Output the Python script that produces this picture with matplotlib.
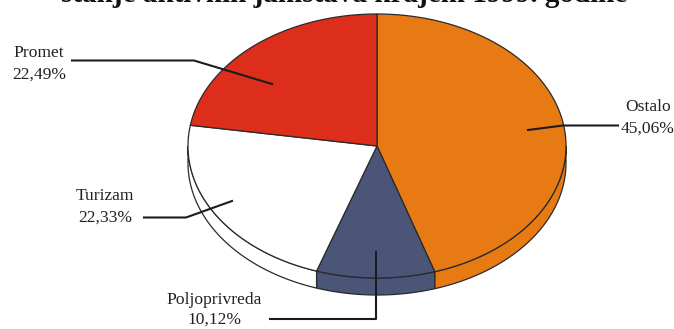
import numpy as np
import matplotlib
matplotlib.use('Agg')
import matplotlib.pyplot as plt

TITLE = 'stanje aktivnih jamstava krajem 1999. godine'
NAMES = ['Ostalo', 'Poljoprivreda', 'Turizam', 'Promet']
SHARES = [45.06, 10.12, 22.33, 22.49]
COLORS = ['#e87a14', '#4a5578', '#ffffff', '#dc2e1a']
EDGE = '#2a2a2a'

# pie geometry in image pixels
CX, CY = 377, 146
RX, RY = 189, 132
DEPTH = 17


def ell(deg, dy=0):
  a = np.radians(deg)
  return CX + RX * np.sin(a), CY - RY * np.cos(a) + dy


fig = plt.figure(figsize=(6.74, 3.29), dpi=100)
ax = fig.add_axes([0, 0, 1, 1])
ax.set_xlim(0, 674)
ax.set_ylim(329, 0)
ax.axis('off')

edges = np.concatenate([[0], np.cumsum(SHARES)]) * 3.6

# side walls first, only the front half shows
for i in range(len(SHARES)):
  a0, a1 = edges[i], edges[i + 1]
  lo, hi = max(a0, 90), min(a1, 270)
  if lo >= hi:
    continue
  t = np.linspace(lo, hi, 120)
  xt, yt = ell(t)
  xb, yb = ell(t, DEPTH)
  ax.fill(np.r_[xt, xb[::-1]], np.r_[yt, yb[::-1]], fc=COLORS[i], ec=EDGE, lw=0.9, zorder=1)

# top faces
for i in range(len(SHARES)):
  t = np.linspace(edges[i], edges[i + 1], 200)
  xt, yt = ell(t)
  ax.fill(np.r_[CX, xt], np.r_[CY, yt], fc=COLORS[i], ec=EDGE, lw=0.9, zorder=2)

# leader lines
LEAD = '#1c1c1c'
ax.plot([528, 563, 618], [130, 125.5, 125.5], color=LEAD, lw=1.5, zorder=3)
ax.plot([375.5, 375.5, 270], [252, 318.5, 318.5], color=LEAD, lw=1.5, zorder=3)
ax.plot([232, 186, 144], [201, 217.5, 217.5], color=LEAD, lw=1.5, zorder=3)
ax.plot([272, 194, 72], [84, 60.5, 60.5], color=LEAD, lw=1.5, zorder=3)

serif = 'Liberation Serif'
kw = dict(family=serif, fontsize=12.6, color='#222222', ha='center', va='center', zorder=4)
lab_pos = {'Ostalo': (648, 107, 129), 'Poljoprivreda': (214, 300, 320),
           'Turizam': (105, 196, 218), 'Promet': (39, 53, 75)}
for name, share in zip(NAMES, SHARES):
  x, y0, y1 = lab_pos[name]
  ax.text(x, y0, name, **kw)
  ax.text(x, y1, f'{share:.2f}%'.replace('.', ','), **kw)

ax.text(344, 2, TITLE, family=serif, fontsize=21, fontweight='bold', color='#111111',
        ha='center', va='baseline')

fig.savefig('out.png', dpi=100)
